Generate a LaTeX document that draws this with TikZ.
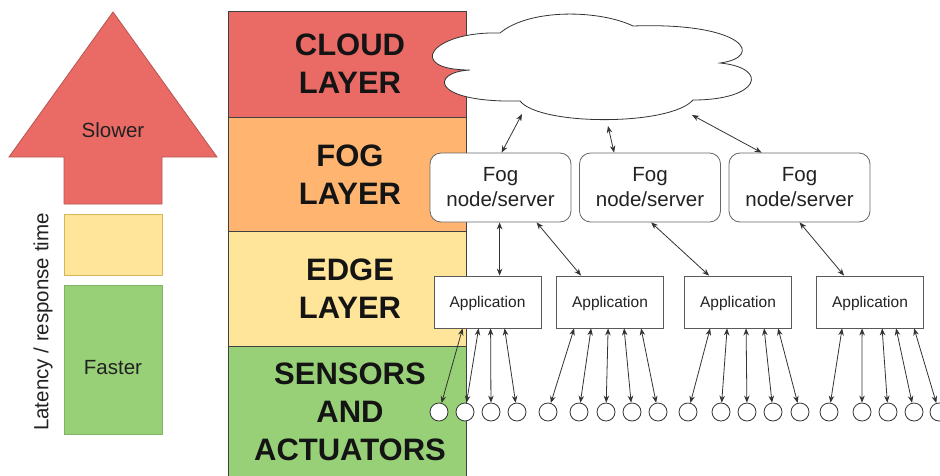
\documentclass[tikz,border=0pt]{standalone}
\usepackage{fontspec}
\setmainfont{Liberation Sans}
\usetikzlibrary{arrows.meta,calc}

\definecolor{redfill}{HTML}{EA6B66}
\definecolor{redline}{HTML}{B85450}
\definecolor{orangefill}{HTML}{FFB570}
\definecolor{yellowfill}{HTML}{FFE599}
\definecolor{yellowline}{HTML}{D6B656}
\definecolor{greenfill}{HTML}{97D077}
\definecolor{greenline}{HTML}{82B366}
\definecolor{ink}{HTML}{222222}
\definecolor{wire}{HTML}{333333}

\tikzset{
  layerbox/.style={rectangle, draw=black!75, line width=0.8pt, minimum width=238pt, inner sep=0pt},
  layertext/.style={font=\fontsize{31}{38}\selectfont\bfseries, text=black!92, align=center, inner sep=0pt},
  plaintext/.style={font=\fontsize{20.5}{25}\selectfont, text=ink, align=center, inner sep=0pt},
  fogbox/.style={rectangle, rounded corners=11pt, draw=black!60, line width=0.8pt, fill=white,
    minimum width=141pt, minimum height=69pt, inner sep=0pt,
    font=\fontsize{20.5}{25}\selectfont, text=ink, align=center},
  appbox/.style={rectangle, draw=black!65, line width=0.8pt, fill=white,
    minimum width=107pt, minimum height=52pt, inner sep=0pt, text depth=0pt,
    font=\fontsize{15.5}{18}\selectfont, text=ink},
  device/.style={circle, draw=wire, line width=0.8pt, fill=white, minimum size=18pt, inner sep=0pt},
  link/.style={draw=wire, line width=0.8pt, >={Stealth[length=7pt,width=5.5pt]}, <->},
}

\begin{document}
\begin{tikzpicture}[x=1pt,y=-1pt]
\useasboundingbox (0,0) rectangle (940,475);
\fill[white] (0,0) rectangle (940,475);

% --- latency scale on the left ---
\draw[fill=redfill, draw=redline, line width=0.8pt]
  (113,12) -- (217,157) -- (162,157) -- (162,204) -- (64,204) -- (64,157) -- (9,157) -- cycle;
\node[plaintext] (slower) at (113,130) {Slower};
\node[rectangle, fill=yellowfill, draw=yellowline, line width=0.8pt,
      minimum width=98pt, minimum height=61pt, inner sep=0pt] (mid) at (113,244.5) {};
\node[rectangle, fill=greenfill, draw=greenline, line width=0.8pt,
      minimum width=98pt, minimum height=149pt, inner sep=0pt] (fast) at (113,359.5) {};
\node[plaintext] (faster) at (113,368) {Faster};
\node[plaintext, rotate=90] (latency) at (43,322) {Latency / response time};

% --- layer column ---
\node[layerbox, fill=redfill, minimum height=106pt] (cloudlayer) at (347,64) {};
\node[layerbox, fill=orangefill, minimum height=114pt] (foglayer) at (347,174) {};
\node[layerbox, fill=yellowfill, minimum height=115pt] (edgelayer) at (347,288.5) {};
\node[layerbox, fill=greenfill, minimum height=132pt] (sensorlayer) at (347,412) {};
\node[layertext] (cloudtxt) at (350,64) {CLOUD\\LAYER};
\node[layertext] (fogtxt) at (350,174.5) {FOG\\LAYER};
\node[layertext] (edgetxt) at (350,288.5) {EDGE\\LAYER};
\node[layertext] (sensortxt) at (350,412) {SENSORS\\AND\\ACTUATORS};

% --- cloud ---
\draw[draw=wire, line width=0.8pt, fill=white]
  (500,33) .. controls (430,31) and (405,70) .. (470,70)
           .. controls (430,72) and (430,103) .. (520,101)
           .. controls (540,126) and (670,126) .. (693,100)
           .. controls (760,100) and (770,68) .. (720,63)
           .. controls (765,57) and (745,22) .. (633,26)
           .. controls (600,10) and (530,8) .. (500,33) -- cycle;
\coordinate (cl1) at (522,114);
\coordinate (cl2) at (608,126);
\coordinate (cl3) at (692,115);

% --- fog nodes ---
\node[fogbox] (f1) at (500.5,187.5) {Fog\\node/server};
\node[fogbox] (f2) at (650,187.5) {Fog\\node/server};
\node[fogbox] (f3) at (799.5,187.5) {Fog\\node/server};

% --- applications ---
\node[appbox] (a1) at (487.5,302) {Application};
\node[appbox] (a2) at (610,302) {Application};
\node[appbox] (a3) at (738,302) {Application};
\node[appbox] (a4) at (870,302) {Application};

% --- sensors / actuators ---
\foreach \i/\x in {1/439,2/465,3/491,4/517,5/548,6/579,7/606,8/632,9/658,10/688,
                   11/721,12/747,13/773,14/800,15/829,16/862,17/888,18/914,19/939}
  \node[device] (s\i) at (\x,412) {};

% --- cloud <-> fog ---
\draw[link] ([xshift=72pt]f1.north west) -- (cl1);
\draw[link] ([xshift=35pt]f2.north west) -- (cl2);
\draw[link] ([xshift=33pt]f3.north west) -- (cl3);

% --- fog <-> application ---
\draw[link] ([xshift=70pt]f1.south west) -- ([xshift=66pt]a1.north west);
\draw[link] ([xshift=107pt]f1.south west) -- ([xshift=25pt]a2.north west);
\draw[link] ([xshift=72pt]f2.south west) -- ([xshift=25pt]a3.north west);
\draw[link] ([xshift=71pt]f3.south west) -- ([xshift=28pt]a4.north west);

% --- application <-> devices ---
\foreach \o/\s in {29/1,45/2,57/3,71/4}
  \draw[link] ([xshift=\o pt]a1.south west) -- (s\s);
\foreach \o/\s in {18/5,35/6,52/7,68/8,85/9}
  \draw[link] ([xshift=\o pt]a2.south west) -- (s\s);
\foreach \o/\s in {26/10,43/11,62/12,80/13,94/14}
  \draw[link] ([xshift=\o pt]a3.south west) -- (s\s);
\foreach \o/\s in {26/15,46/16,66/17,80/18,98/19}
  \draw[link] ([xshift=\o pt]a4.south west) -- (s\s);
\end{tikzpicture}
\end{document}
